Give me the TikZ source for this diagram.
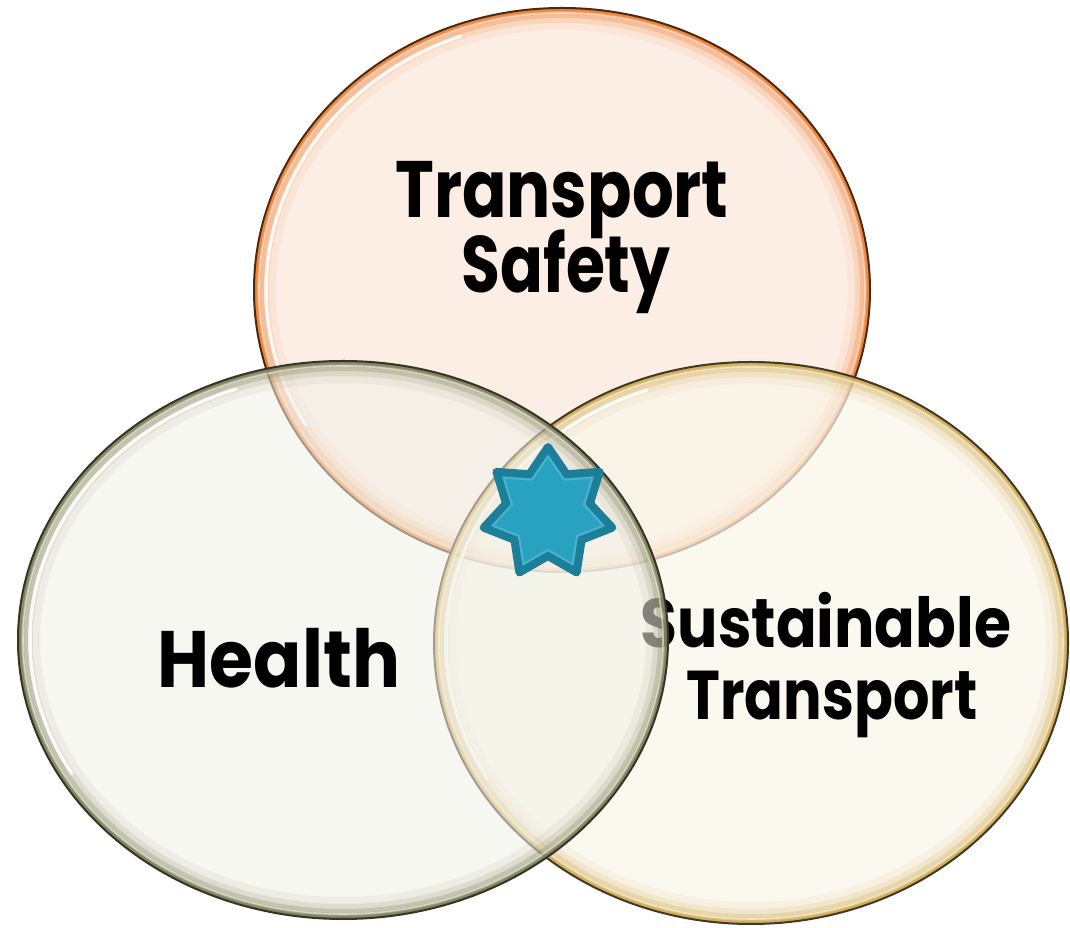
\documentclass[tikz,border=0pt]{standalone}
\usepackage{fontspec}
\newfontfamily\vennfont{Poppins}
\usetikzlibrary{shapes.geometric}
\definecolor{tsfill}{HTML}{FDEEE5}
\definecolor{tsrim}{HTML}{EE7F30}
\definecolor{tsedge}{HTML}{4A2A14}
\definecolor{hfill}{HTML}{F1F1E9}
\definecolor{hrim}{HTML}{7E7E55}
\definecolor{hedge}{HTML}{34342A}
\definecolor{stfill}{HTML}{FAF6EA}
\definecolor{strim}{HTML}{D2AA50}
\definecolor{stedge}{HTML}{403828}
\definecolor{starfill}{HTML}{29A1C1}
\definecolor{staredge}{HTML}{1C7E98}
\definecolor{starline}{HTML}{46B4D0}
\tikzset{
  lbl/.style={anchor=base, inner sep=0pt, text=black},
}
% cx, cy, rx, ry, fill, rim, edge ; fill opacity in \fop
\newcommand\vennbubble[7]{%
  \pgfmathsetmacro\hrx{#3-5}\pgfmathsetmacro\hry{#4-5}%
  \pgfmathsetmacro\grx{#3-12}\pgfmathsetmacro\gry{#4-12}%
  \begin{scope}
    \clip (#1,#2) ellipse [x radius=#3, y radius=#4];
    \fill[#5, fill opacity=\fop] (#1,#2) ellipse [x radius=#3, y radius=#4];
    \draw[#6, line width=44, opacity=0.08] (#1,#2) ellipse [x radius=#3, y radius=#4];
    \draw[#6, line width=30, opacity=0.15] (#1,#2) ellipse [x radius=#3, y radius=#4];
    \draw[#6, line width=20, opacity=0.26] (#1,#2) ellipse [x radius=#3, y radius=#4];
    \draw[#6, line width=12, opacity=0.45] (#1,#2) ellipse [x radius=#3, y radius=#4];
    \draw[#6, line width=6, opacity=0.80] (#1,#2) ellipse [x radius=#3, y radius=#4];
    \draw[white, line width=1.6, opacity=0.55] (#1,#2) ellipse [x radius=\hrx, y radius=\hry];
    \draw[white, line width=3.5, opacity=0.85, line cap=round]
      ({#1+\grx*cos(110)},{#2+\gry*sin(110)}) arc [start angle=110, end angle=210, x radius=\grx, y radius=\gry];
  \end{scope}
  \draw[#7, line width=2] (#1,#2) ellipse [x radius=#3, y radius=#4];
}
% name, x, y, font size, xscale, text
\newcommand\shtext[6]{%
  \node[lbl, font=\vennfont\bfseries\fontsize{#4}{#4}\selectfont, xscale=#5] (#1) at (#2,#3) {#6};
}
\begin{document}
\begin{tikzpicture}[x=1pt,y=1pt]
  \fill[white] (0,0) rectangle (1070,928);
  \useasboundingbox (0,0) rectangle (1070,928);
  % Transport Safety (top)
  \def\fop{1}
  \vennbubble{562}{638}{308}{282}{tsfill}{tsrim}{tsedge}
  \shtext{ts1}{562}{710}{80}{0.82}{Transport}
  \shtext{ts2}{566}{635}{80}{0.79}{Safety}
  % Sustainable Transport (right)
  \def\fop{0.72}
  \vennbubble{751}{285}{317}{281}{stfill}{strim}{stedge}
  \shtext{st1}{826}{280}{69}{0.87}{Sustainable}
  \shtext{st2}{832}{208}{69}{0.83}{Transport}
  % Health (left)
  \def\fop{0.55}
  \vennbubble{343}{288}{325}{279}{hfill}{hrim}{hedge}
  \shtext{he}{279}{240}{80}{0.89}{Health}
  % star
  \begin{scope}[shift={(548,415)}]
    \draw[fill=starfill, draw=staredge, line width=8, line join=round]
      (90:66) -- (115.71:43) -- (141.43:66) -- (167.14:43) -- (192.86:66) -- (218.57:43) -- (244.29:66)
      -- (270:43) -- (295.71:66) -- (321.43:43) -- (347.14:66) -- (12.86:43) -- (38.57:66) -- (64.29:43) -- cycle;
    \draw[starline, line width=2, line join=round, scale=0.86]
      (90:66) -- (115.71:43) -- (141.43:66) -- (167.14:43) -- (192.86:66) -- (218.57:43) -- (244.29:66)
      -- (270:43) -- (295.71:66) -- (321.43:43) -- (347.14:66) -- (12.86:43) -- (38.57:66) -- (64.29:43) -- cycle;
  \end{scope}
\end{tikzpicture}
\end{document}
